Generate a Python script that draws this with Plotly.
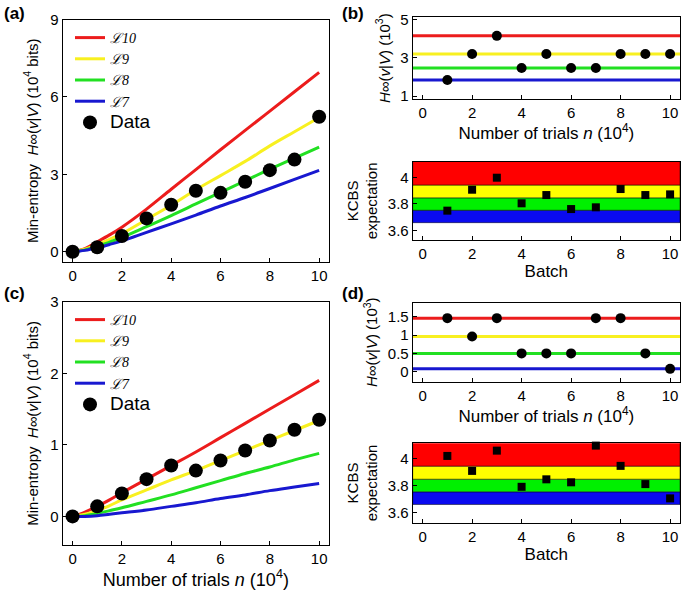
import plotly.graph_objects as go

# --- data ---
n_pts = [0, 1, 2, 3, 4, 5, 6, 7, 8, 9, 10]
batch = [1, 2, 3, 4, 5, 6, 7, 8, 9, 10]
curve_x = [0, 0.5, 1, 1.5, 2, 3, 4, 5, 6, 7, 8, 9, 10]

# panel (a): min-entropy bounds (10^4 bits)
a_L10 = [0, 0.12, 0.38, 0.65, 0.95, 1.65, 2.42, 3.18, 3.95, 4.7, 5.45, 6.2, 6.95]
a_L9 = [0, 0.1, 0.28, 0.48, 0.7, 1.25, 1.8, 2.4, 2.95, 3.5, 4.1, 4.65, 5.2]
a_L8 = [0, 0.07, 0.2, 0.37, 0.55, 0.97, 1.4, 1.85, 2.3, 2.75, 3.2, 3.63, 4.05]
a_L7 = [0, 0.05, 0.15, 0.28, 0.42, 0.75, 1.08, 1.42, 1.77, 2.1, 2.45, 2.8, 3.15]
a_data = [0, 0.17, 0.61, 1.29, 1.82, 2.36, 2.28, 2.71, 3.16, 3.57, 5.23]

# panel (b)
b_levels = [4.16, 3.21, 2.47, 1.84]          # L10, L9, L8, L7 (10^3)
b_entropy = [1.84, 3.21, 4.16, 2.47, 3.21, 2.47, 2.47, 3.21, 3.21, 3.21]
b_kcbs = [3.75, 3.907, 3.997, 3.805, 3.867, 3.762, 3.775, 3.912, 3.867, 3.872]

# panel (c)
c_L10 = [0, 0.06, 0.14, 0.23, 0.33, 0.52, 0.71, 0.9, 1.1, 1.3, 1.5, 1.7, 1.9]
c_L9 = [0, 0.03, 0.08, 0.15, 0.23, 0.37, 0.51, 0.64, 0.78, 0.92, 1.06, 1.2, 1.34]
c_L8 = [0, 0.01, 0.04, 0.08, 0.12, 0.21, 0.3, 0.4, 0.5, 0.6, 0.69, 0.79, 0.88]
c_L7 = [0, 0.0, 0.01, 0.03, 0.05, 0.09, 0.14, 0.19, 0.25, 0.3, 0.36, 0.41, 0.46]
c_data = [0, 0.14, 0.32, 0.52, 0.71, 0.64, 0.78, 0.92, 1.06, 1.21, 1.35]

# panel (d)
d_levels = [1.46, 0.96, 0.5, 0.08]
d_entropy = [1.46, 0.96, 1.46, 0.5, 0.5, 0.5, 1.46, 1.46, 0.5, 0.08]
d_kcbs = [4.017, 3.907, 4.056, 3.79, 3.845, 3.823, 4.093, 3.944, 3.81, 3.705]

# KCBS bands (bottom, top) for L7..L10
band_edges = [3.66, 3.753, 3.846, 3.942, 4.2]

names = ["ℒ10", "ℒ9", "ℒ8", "ℒ7"]
colors = ["#ec1c1c", "#f8f020", "#22e022", "#1818d0"]
band_cols = ["#0a0af0", "#00f000", "#ffff00", "#ff0000"]   # L7 .. L10

W, H = 685, 596
FONT = "Liberation Sans, Arial, sans-serif"


def xd(x0, x1):
    return [x0 / W, x1 / W]


def yd(top, bottom):
    return [1 - bottom / H, 1 - top / H]


def legname(s):
    return '<span style="font-family:Liberation Serif"><i>' + s + '</i></span>'


fig = go.Figure()

# (a) and (c) curves
for panel, curves, data, leg in [("", [a_L10, a_L9, a_L8, a_L7], a_data, "legend"),
                                 ("4", [c_L10, c_L9, c_L8, c_L7], c_data, "legend2")]:
    xa = "x" + panel
    ya = "y" + panel
    for nm, col, ys in zip(names, colors, curves):
        fig.add_trace(go.Scatter(x=curve_x, y=ys, mode="lines", name=legname(nm),
                                 line=dict(color=col, width=3, shape="spline"),
                                 xaxis=xa, yaxis=ya, legend=leg))
    fig.add_trace(go.Scatter(x=n_pts, y=data, mode="markers",
                             name='<span style="font-size:19px">Data</span>',
                             marker=dict(color="black", size=14),
                             xaxis=xa, yaxis=ya, legend=leg))

# (b) and (d) entropy per batch
for panel, levels, ent in [("2", b_levels, b_entropy), ("5", d_levels, d_entropy)]:
    for col, lv in zip(colors, levels):
        fig.add_trace(go.Scatter(x=[-0.4, 10.4], y=[lv, lv], mode="lines",
                                 line=dict(color=col, width=3), showlegend=False,
                                 xaxis="x" + panel, yaxis="y" + panel))
    fig.add_trace(go.Scatter(x=batch, y=ent, mode="markers", showlegend=False,
                             marker=dict(color="black", size=10), cliponaxis=False,
                             xaxis="x" + panel, yaxis="y" + panel))

# KCBS panels
for panel, vals in [("3", b_kcbs), ("6", d_kcbs)]:
    fig.add_trace(go.Scatter(x=batch, y=vals, mode="markers", showlegend=False,
                             marker=dict(color="black", size=8, symbol="square"),
                             cliponaxis=False,
                             xaxis="x" + panel, yaxis="y" + panel))
    for i, col in enumerate(band_cols):
        fig.add_shape(type="rect", xref="x" + panel + " domain", yref="y" + panel,
                      x0=0, x1=1, y0=band_edges[i], y1=band_edges[i + 1],
                      fillcolor=col, line=dict(color="black", width=0.5), layer="below")

axis_common = dict(showline=True, linecolor="black", linewidth=1, mirror=True,
                   ticks="inside", ticklen=4, tickcolor="black", showgrid=False,
                   zeroline=False, tickfont=dict(size=15, color="black"),
                   automargin=False, ticklabeloverflow="allow")

xlab = "Number of trials <i>n</i> (10<sup>4</sup>)"
ylab_big = "Min-entropy  <i>H</i>∞(<i>v</i>|<i>V</i>) (10<sup>4</sup> bits)"
ylab_small = "<i>H</i>∞(<i>v</i>|<i>V</i>) (10<sup>3</sup>)"

leg_common = dict(xanchor="left", yanchor="top", bgcolor="rgba(0,0,0,0)",
                  font=dict(size=14), tracegroupgap=0, itemwidth=30)

fig.update_layout(
    width=W, height=H, margin=dict(l=0, r=0, t=0, b=0),
    paper_bgcolor="white", plot_bgcolor="white",
    font=dict(family=FONT, color="black", size=15),
    showlegend=True,
    legend=dict(x=70 / W, y=1 - 22 / H, **leg_common),
    legend2=dict(x=70 / W, y=1 - 304 / H, **leg_common),
    xaxis=dict(domain=xd(62.7, 329), range=[-0.4, 10.4], tickvals=[0, 2, 4, 6, 8, 10],
               anchor="y", **axis_common),
    yaxis=dict(domain=yd(19.5, 262), range=[-0.4, 9], tickvals=[0, 3, 6, 9],
               anchor="x", title=dict(text=ylab_big, font=dict(size=15), standoff=8),
               **axis_common),
    xaxis2=dict(domain=xd(412.7, 680), range=[-0.4, 10.4], tickvals=[0, 2, 4, 6, 8, 10],
                anchor="y2", title=dict(text=xlab, font=dict(size=17), standoff=4),
                **axis_common),
    yaxis2=dict(domain=yd(17, 99.3), range=[0.83, 5.15], tickvals=[1, 3, 5],
                anchor="x2", title=dict(text=ylab_small, font=dict(size=15), standoff=6),
                **axis_common),
    xaxis3=dict(domain=xd(412.7, 680), range=[-0.4, 10.4], tickvals=[0, 2, 4, 6, 8, 10],
                anchor="y3", title=dict(text="Batch", font=dict(size=17), standoff=2),
                **axis_common),
    yaxis3=dict(domain=yd(161.7, 240), range=[3.53, 4.117], tickvals=[3.6, 3.8, 4],
                ticktext=["3.6", "3.8", "4"], anchor="x3",
                title=dict(text="KCBS<br>expectation", font=dict(size=15), standoff=6),
                **axis_common),
    xaxis4=dict(domain=xd(62.7, 329), range=[-0.4, 10.4], tickvals=[0, 2, 4, 6, 8, 10],
                anchor="y4", title=dict(text=xlab, font=dict(size=18), standoff=6),
                **axis_common),
    yaxis4=dict(domain=yd(301.7, 545), range=[-0.4, 3], tickvals=[0, 1, 2, 3],
                anchor="x4", title=dict(text=ylab_big, font=dict(size=15), standoff=8),
                **axis_common),
    xaxis5=dict(domain=xd(412.7, 680), range=[-0.4, 10.4], tickvals=[0, 2, 4, 6, 8, 10],
                anchor="y5", title=dict(text=xlab, font=dict(size=17), standoff=6),
                **axis_common),
    yaxis5=dict(domain=yd(302.7, 381.7), range=[-0.27, 1.88], tickvals=[0, 0.5, 1, 1.5],
                ticktext=["0", "0.5", "1", "1.5"], anchor="x5",
                title=dict(text=ylab_small, font=dict(size=15), standoff=6),
                **axis_common),
    xaxis6=dict(domain=xd(412.7, 680), range=[-0.4, 10.4], tickvals=[0, 2, 4, 6, 8, 10],
                anchor="y6", title=dict(text="Batch", font=dict(size=17), standoff=2),
                **axis_common),
    yaxis6=dict(domain=yd(443.3, 522.7), range=[3.526, 4.11], tickvals=[3.6, 3.8, 4],
                ticktext=["3.6", "3.8", "4"], anchor="x6",
                title=dict(text="KCBS<br>expectation", font=dict(size=15), standoff=6),
                **axis_common),
)

for label, px, py in [("(a)", 2, 2), ("(b)", 340, 2), ("(c)", 2, 282), ("(d)", 340, 282)]:
    fig.add_annotation(text="<b>" + label + "</b>", xref="paper", yref="paper",
                       x=px / W, y=1 - py / H, xanchor="left", yanchor="top",
                       showarrow=False, font=dict(size=17, color="black"))

# drop the browser's default page margin so the figure sits at (0, 0)
fig.write_html("out.html", config={"displayModeBar": False},
               post_script="document.body.style.margin='0';")
